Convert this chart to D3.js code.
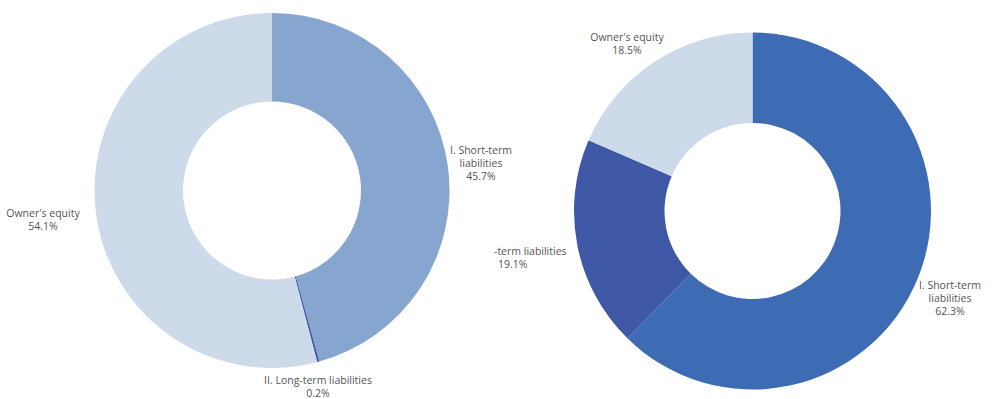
<!DOCTYPE html>
<html>
<head>
<meta charset="utf-8">
<script src="https://cdn.jsdelivr.net/npm/d3@7"></script>
<style>
  html, body { margin: 0; padding: 0; background: #fff; }
  svg text { font-family: "Open Sans", "Noto Sans", sans-serif; font-size: 10.5px; fill: #555; }
</style>
</head>
<body>
<svg id="chart" width="993" height="399"></svg>
<script>
// Balance-sheet structure: two periods, shares of total liabilities + equity (%)
const categories = ["I. Short-term liabilities", "II. Long-term liabilities", "Owner's equity"];
const leftValues = [45.7, 0.2, 54.1];
const rightValues = [62.3, 19.1, 18.5];
const leftColors = ["#87a6cf", "#3e5aa6", "#ccdaea"];
const rightColors = ["#3e6cb4", "#3f58a6", "#ccdaea"];

// Label text lines per slice (the long-term label on the right is cut at its left edge)
const leftLabelLines = [["I. Short-term", "liabilities"], ["II. Long-term liabilities"], ["Owner's equity"]];
const rightLabelLines = [["I. Short-term", "liabilities"], ["-term liabilities"], ["Owner's equity"]];

const svg = d3.select("#chart");
const pie = d3.pie().sort(null).value(d => d);
const fmt = v => d3.format(".1f")(v) + "%";
const lineStep = 13;

function donut(values, colors, labelLines, cx, cy, rOuter, rInner, labelPos) {
  const g = svg.append("g").attr("transform", `translate(${cx},${cy})`);
  const arc = d3.arc().innerRadius(rInner).outerRadius(rOuter);
  g.selectAll("path")
    .data(pie(values))
    .join("path")
    .attr("d", arc)
    .attr("fill", (d, i) => colors[i])
    .attr("stroke", "none");

  values.forEach((v, i) => {
    const p = labelPos[i];
    const lines = labelLines[i].concat([fmt(v)]);
    const t = svg.append("text")
      .attr("text-anchor", p.anchor || "middle");
    lines.forEach((line, k) => {
      t.append("tspan")
        .attr("x", p.x + (p.dx && k === lines.length - 1 ? p.dx : 0))
        .attr("y", p.y + k * lineStep)
        .text(line);
    });
  });
}

donut(leftValues, leftColors, leftLabelLines, 272, 190.5, 177.5, 89, [
  { x: 481, y: 154 },
  { x: 318, y: 384 },
  { x: 43, y: 217 }
]);

donut(rightValues, rightColors, rightLabelLines, 752.5, 211, 178.5, 88, [
  { x: 950, y: 289 },
  { x: 494, y: 255, anchor: "start", dx: 4 },
  { x: 627, y: 41 }
]);
</script>
</body>
</html>
